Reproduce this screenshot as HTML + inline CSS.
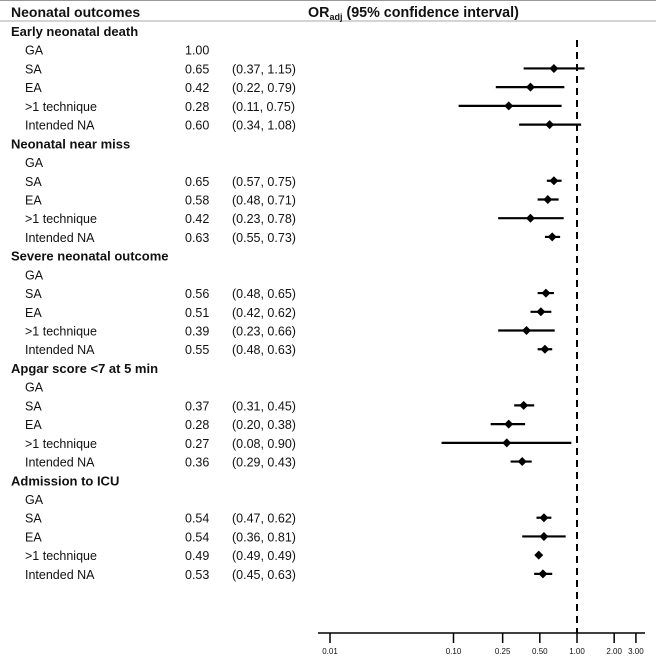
<!DOCTYPE html>
<html><head><meta charset="utf-8"><style>
body{margin:0;background:#fff;}
svg text{font-family:"Liberation Sans",sans-serif;font-size:12.5px;fill:#111;}
</style></head><body>
<svg width="656" height="657" xmlns="http://www.w3.org/2000/svg">
<line x1="0" y1="0.5" x2="656" y2="0.5" stroke="#999" stroke-width="1"/>
<line x1="0" y1="21" x2="656" y2="21" stroke="#aaa" stroke-width="1"/>
<text x="11" y="17" style="font-size:14px;font-weight:bold">Neonatal outcomes</text>
<text x="308" y="17" style="font-size:14.3px;font-weight:bold">OR<tspan style="font-size:9px" dy="3">adj</tspan><tspan dy="-3"> (95% confidence interval)</tspan></text>
<g id="rows"></g>
<g id="marks"></g>
<g id="axis"></g>
</svg>
<script>
const groups=["Early neonatal death","Neonatal near miss","Severe neonatal outcome","Apgar score <7 at 5 min","Admission to ICU"];
const techniques=["GA","SA","EA",">1 technique","Intended NA"];
const orValues=[[1.00,0.65,0.42,0.28,0.60],[null,0.65,0.58,0.42,0.63],[null,0.56,0.51,0.39,0.55],[null,0.37,0.28,0.27,0.36],[null,0.54,0.54,0.49,0.53]];
const lowerCI=[[null,0.37,0.22,0.11,0.34],[null,0.57,0.48,0.23,0.55],[null,0.48,0.42,0.23,0.48],[null,0.31,0.20,0.08,0.29],[null,0.47,0.36,0.49,0.45]];
const upperCI=[[null,1.15,0.79,0.75,1.08],[null,0.75,0.71,0.78,0.73],[null,0.65,0.62,0.66,0.63],[null,0.45,0.38,0.90,0.43],[null,0.62,0.81,0.49,0.63]];
const tickValues=[0.01,0.10,0.25,0.50,1.00,2.00,3.00];
const tickLabels=["0.01","0.10","0.25","0.50","1.00","2.00","3.00"];
const NS="http://www.w3.org/2000/svg";
function xScale(v){return 577+Math.log10(v)*123.5;}
function yRow(i){return 31+i*18.72;}
function mk(tag,attrs,parent,txt){const e=document.createElementNS(NS,tag);for(const k in attrs)e.setAttribute(k,attrs[k]);if(txt!==undefined)e.textContent=txt;parent.appendChild(e);return e;}
const rows=document.getElementById('rows'),marks=document.getElementById('marks'),axis=document.getElementById('axis');
let r=0;
groups.forEach((g,gi)=>{
  let t=mk('text',{x:11,y:yRow(r)+5,style:'font-weight:bold;font-size:13px'},rows,g);
  
  
  r++;
  techniques.forEach((tech,ti)=>{
    const y=yRow(r);
    let a=mk('text',{x:25,y:y+5},rows,tech);
    
    
    const o=orValues[gi][ti];
    if(o!==null){
      let b=mk('text',{x:185,y:y+5},rows,o.toFixed(2));
      
      
    }
    const lo=lowerCI[gi][ti],hi=upperCI[gi][ti];
    if(lo!==null){
      let c=mk('text',{x:232,y:y+5},rows,'('+lo.toFixed(2)+', '+hi.toFixed(2)+')');
      
      
      let l=mk('line',{x1:xScale(lo),x2:xScale(hi),y1:y,y2:y,stroke:'#000','stroke-width':2.2},marks);
      
      
      const cx=xScale(o);
      let d=mk('polygon',{points:`${cx-4.5},${y} ${cx},${y-4.5} ${cx+4.5},${y} ${cx},${y+4.5}`,fill:'#000'},marks);
      
      
    }
    r++;
  });
});
let ref=mk('line',{x1:xScale(1),x2:xScale(1),y1:40,y2:633,stroke:'#000','stroke-width':2,'stroke-dasharray':'7 5'},axis);


let ax=mk('line',{x1:318,x2:645,y1:633,y2:633,stroke:'#000','stroke-width':1.5},axis);


tickValues.forEach((v,i)=>{
  const x=xScale(v);
  let tk=mk('line',{x1:x,x2:x,y1:633,y2:643,stroke:'#000','stroke-width':1.5},axis);
  
  
  let tl=mk('text',{x:x,y:654,'text-anchor':'middle',style:'font-size:8px'},axis,tickLabels[i]);
  
  
});
</script>
</body></html>
